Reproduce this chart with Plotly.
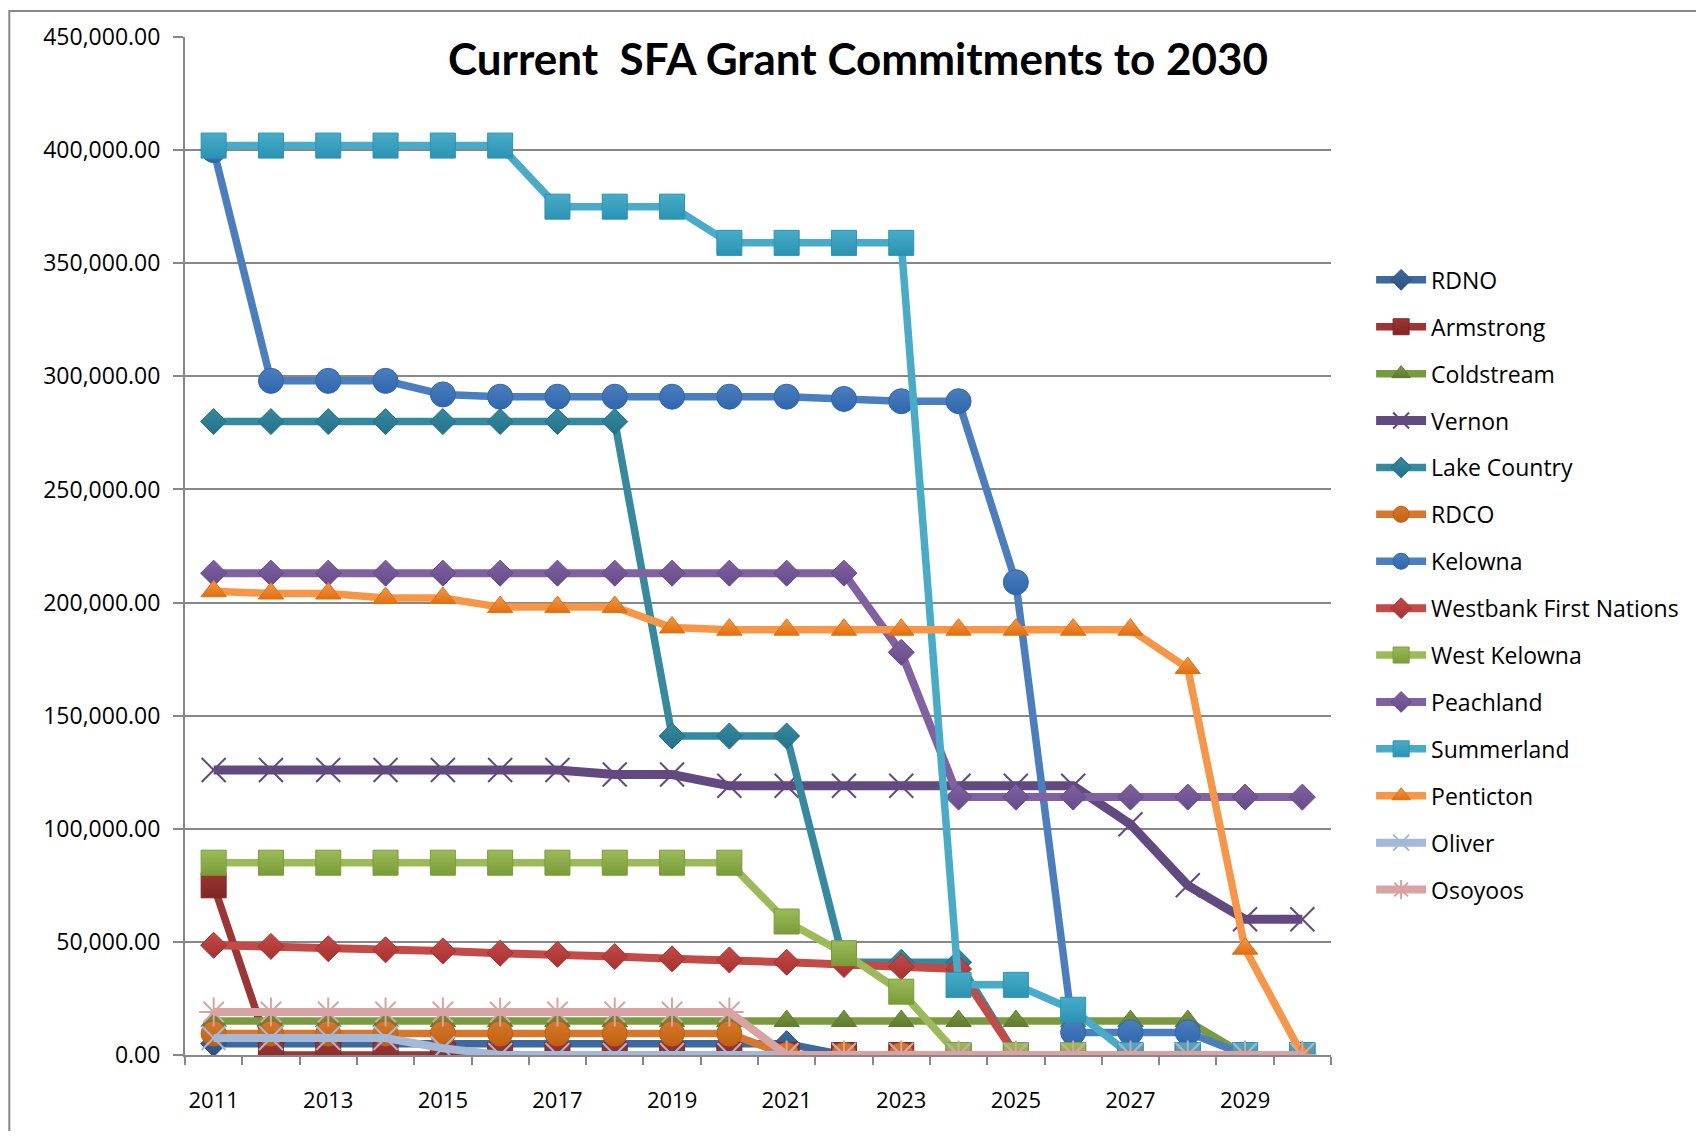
import plotly.graph_objects as go

years = list(range(2011, 2031))

names = ["RDNO", "Armstrong", "Coldstream", "Vernon", "Lake Country", "RDCO", "Kelowna",
         "Westbank First Nations", "West Kelowna", "Peachland", "Summerland", "Penticton",
         "Oliver", "Osoyoos"]

rdno = [5000]*11 + [0]*9
armstrong = [75000] + [0]*19
coldstream = [15000]*18 + [0, 0]
vernon = [126000]*7 + [124000, 124000] + [119000]*7 + [102000, 75000, 60000, 60000]
lake_country = [280000]*8 + [141000]*3 + [41000]*3 + [0]*6
rdco = [9500]*10 + [0]*10
kelowna = [400000, 298000, 298000, 298000, 292000, 291000, 291000, 291000, 291000, 291000,
           291000, 290000, 289000, 289000, 209000, 10000, 10000, 10000, 0, 0]
westbank = [48500, 48000, 47000, 46500, 46000, 45000, 44500, 43500, 42500, 42000,
            41000, 40000, 39000, 38000, 0, 0, 0, 0, 0, 0]
west_kelowna = [85000]*10 + [59000, 45000, 28000] + [0]*7
peachland = [213000]*12 + [178000] + [114000]*7
summerland = [402000]*6 + [375000]*3 + [359000]*4 + [31000, 31000, 20000] + [0]*4
penticton = [205000, 204000, 204000, 202000, 202000, 198000, 198000, 198000, 189000, 188000,
             188000, 188000, 188000, 188000, 188000, 188000, 188000, 171000, 47000, 0]
oliver = [7500]*4 + [3000] + [0]*15
osoyoos = [19000]*10 + [0]*10

series = [rdno, armstrong, coldstream, vernon, lake_country, rdco, kelowna, westbank,
          west_kelowna, peachland, summerland, penticton, oliver, osoyoos]

colors = ["#3c6aa0", "#9c3533", "#7a9a41", "#624a80", "#368aa0", "#d7772b", "#4a7ebe",
          "#c24a47", "#9bbb59", "#8062a2", "#48acc8", "#f79646", "#a5b8d8", "#d8a3a2"]
dark = ["#2c5080", "#7e2624", "#5f7a2c", "#4c3866", "#22718a", "#c0600f", "#2f66ad",
        "#a8302e", "#7a9c38", "#664a8a", "#2a93b3", "#e07010", "#8ea4c8", "#c48a8a"]
symbols = ["diamond", "square", "triangle-up", "x-thin-open", "diamond", "circle", "circle",
           "diamond", "square", "diamond", "square", "triangle-up", "x-thin-open", "asterisk-open"]
sizes = [20, 25, 22, 24, 20, 25, 25, 20, 25, 20, 25, 22, 24, 24]
widths = [7.5, 7.5, 7.5, 9, 7.5, 7.5, 7.5, 8, 7.5, 8, 7.5, 7.5, 8, 8]

fig = go.Figure()
for n, s, c, d, sym, sz, w in zip(names, series, colors, dark, symbols, sizes, widths):
    thin = "open" in sym
    fig.add_trace(go.Scatter(
        x=years, y=s, name=n, mode="lines+markers", legendgroup=n,
        line=dict(color=c, width=w),
        marker=dict(symbol=sym, size=sz, color=c,
                    line=dict(color=c if thin else d, width=2 if thin else 1),
                    gradient=None if thin else dict(type="vertical", color=d)),
    ))

fig.update_layout(
    width=1688, height=1123,
    margin=dict(l=177, r=363, t=27, b=76),
    paper_bgcolor="white", plot_bgcolor="white",
    font=dict(family="Open Sans", color="black"),
    showlegend=True,
    legend=dict(x=1.035, y=0.4618, xanchor="left", yanchor="middle",
                font=dict(size=23, family="Open Sans"), tracegroupgap=14,
                itemwidth=50, bgcolor="rgba(0,0,0,0)"),
    xaxis=dict(range=[2010.5, 2030.5], tickvals=list(range(2011, 2031, 2)),
               ticks="", showgrid=False, showline=True, linecolor="#878787", linewidth=2,
               tickfont=dict(size=22, family="Open Sans"), ticklabelstandoff=25,
               minor=dict(tick0=2010.5, dtick=1, ticks="outside", ticklen=8,
                          tickcolor="#878787", tickwidth=1.5, showgrid=False),
               zeroline=False),
    yaxis=dict(range=[0, 450000], dtick=50000, tickformat=",.2f",
               showgrid=True, gridcolor="#878787", gridwidth=1.5,
               showline=True, linecolor="#878787", linewidth=2,
               ticks="outside", ticklen=10, tickcolor="#878787", tickwidth=1.5,
               tickfont=dict(size=23, family="Open Sans"), zeroline=False,
               ticklabelstandoff=8),
    annotations=[dict(text="<b>Current  SFA Grant Commitments to 2030</b>",
                      xref="paper", yref="paper", x=0.587, y=0.979,
                      xanchor="center", yanchor="middle", showarrow=False,
                      font=dict(size=44, family="Lato", color="black"))],
    shapes=[dict(type="rect", xref="paper", yref="paper", x0=-0.1533, y0=-0.2,
                 x1=1.5, y1=1.0255, line=dict(color="#888888", width=2), layer="below")],
)

fig.write_html("out.html")
